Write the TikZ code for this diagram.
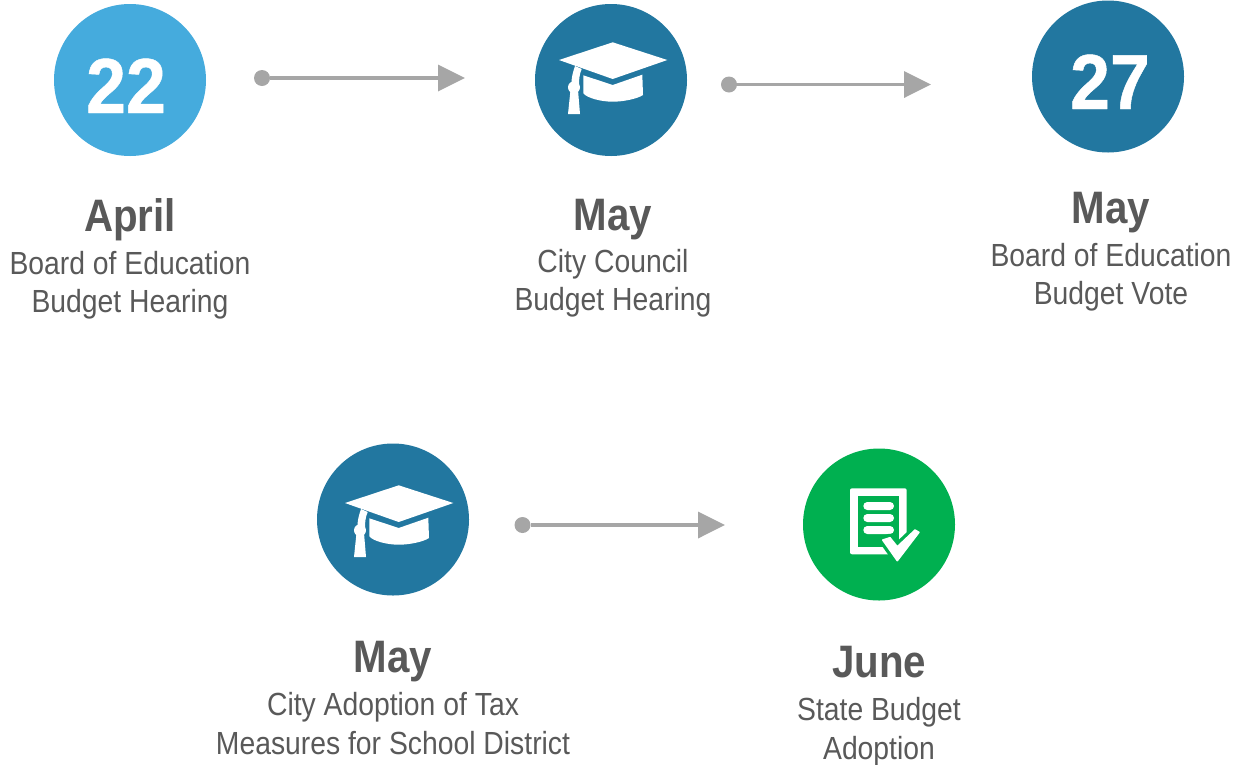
\documentclass[tikz,border=0pt]{standalone}
\usepackage{fontspec}
\setmainfont[FakeStretch=0.885]{Liberation Sans}
\newfontfamily\digitfont[FakeStretch=0.92,FakeBold=0.6]{Liberation Sans Bold}
\usetikzlibrary{arrows.meta}
\definecolor{deep}{HTML}{2277A0}
\definecolor{sky}{HTML}{45ABDD}
\definecolor{leaf}{HTML}{00B050}
\definecolor{arrowgrey}{HTML}{A6A6A6}
\definecolor{ink}{HTML}{595959}
\tikzset{
  disc/.style={circle,inner sep=0pt,minimum size=152pt},
  numeral/.style={anchor=base,inner sep=0pt,text=white,font=\digitfont\fontsize{78}{78}\selectfont},
  month/.style={anchor=base,inner sep=0pt,text=ink,font=\bfseries\fontsize{45.5}{50}\selectfont},
  body/.style={anchor=north,inner sep=0pt,align=center,text=ink,font=\fontsize{32}{38.7}\selectfont},
  dot/.style={circle,fill=arrowgrey,inner sep=0pt,minimum size=16pt},
  flow/.style={draw=arrowgrey,line width=3.6pt,-{Triangle[length=27pt,width=26pt]}},
  capicon/.pic={
    \fill[white] (1.7,-37.7) -- (56.3,-20) -- (1.7,-1) -- (-52,-20) -- cycle;
    \fill[white] (-27.7,-4.7) -- (1.7,5) -- (31.3,-5.3) -- (32,15)
       .. controls (26,19) and (12,21.7) .. (1.7,21.7)
       .. controls (-10,21.7) and (-24,18) .. (-27.7,13.3) -- cycle;
    \fill[white] (-36,-14) -- (-29.3,-11) .. controls (-31.5,-6) and (-32,-1) .. (-32,4)
       -- (-33,10) -- (-31,34) -- (-43,34) -- (-40.5,10) -- (-39.5,3) .. controls (-39.5,-3) and (-38,-8) .. (-36,-14) -- cycle;
    \fill[white] (-37,7.3) circle[radius=6];
  },
  docicon/.pic={
    \fill[white,rounded corners=2pt] (-29,-36.2) rectangle (27.7,29.8);
    \fill[leaf] (-21,-28.5) rectangle (20,22.2);
    \foreach \y in {-22.5,-10.5,1.5}
      \fill[white,rounded corners=4pt] (-15.7,\y) rectangle (15,\y+8);
    \draw[leaf,line width=8pt,line join=round] (3.7,15.5) -- (11,13.2) -- (18.3,22.2) -- (36,5.5) -- (40,7.8) -- (18.3,36.2) -- cycle;
    \filldraw[white,line width=1.5pt,line join=round] (3.7,15.5) -- (11,13.2) -- (18.3,22.2) -- (36,5.5) -- (40,7.8) -- (18.3,36.2) -- cycle;
  }
}
\begin{document}
\begin{tikzpicture}[x=1pt,y=-1pt]
\useasboundingbox (0,0) rectangle (1236,764);
% discs
\node[disc,fill=sky]  (d1) at (130,80) {};
\node[disc,fill=deep] (d2) at (611,80) {};
\node[disc,fill=deep] (d3) at (1108,76.5) {};
\node[disc,fill=deep] (d4) at (393,519.5) {};
\node[disc,fill=leaf] (d5) at (879,524.5) {};
\node[numeral] (n1) at (126,113) {22};
\node[numeral] (n3) at (1110,109) {27};
\pic at (d2.center) {capicon};
\pic at ([shift={(4,3.5)}]d4.center) {capicon};
\pic at (d5.center) {docicon};
% labels
\node[month] (m1) at (130,231) {April};
\node[body]  (b1) at (130,247) {\strut Board of Education\\\strut Budget Hearing};
\node[month] (m2) at (613,230) {May};
\node[body]  (b2) at (613,245) {\strut City Council\\\strut Budget Hearing};
\node[month] (m3) at (1111,223) {May};
\node[body]  (b3) at (1111,239) {\strut Board of Education\\\strut Budget Vote};
\node[month] (m4) at (393,672) {May};
\node[body]  (b4) at (393,688) {\strut City Adoption of Tax\\\strut Measures for School District};
\node[month] (m5) at (879,677) {June};
\node[body]  (b5) at (879,693) {\strut State Budget\\\strut Adoption};
% connectors
\node[dot] (s1) at (262,78) {};
\coordinate (e1) at (465,78);
\draw[flow] (s1) -- (e1);
\node[dot] (s2) at (729,84.5) {};
\coordinate (e2) at (931,84.5);
\draw[flow] (s2) -- (e2);
\node[dot] (s3) at (522.5,525) {};
\coordinate (e3) at (725,525);
\draw[flow] (s3) -- (e3);
\end{tikzpicture}
\end{document}
